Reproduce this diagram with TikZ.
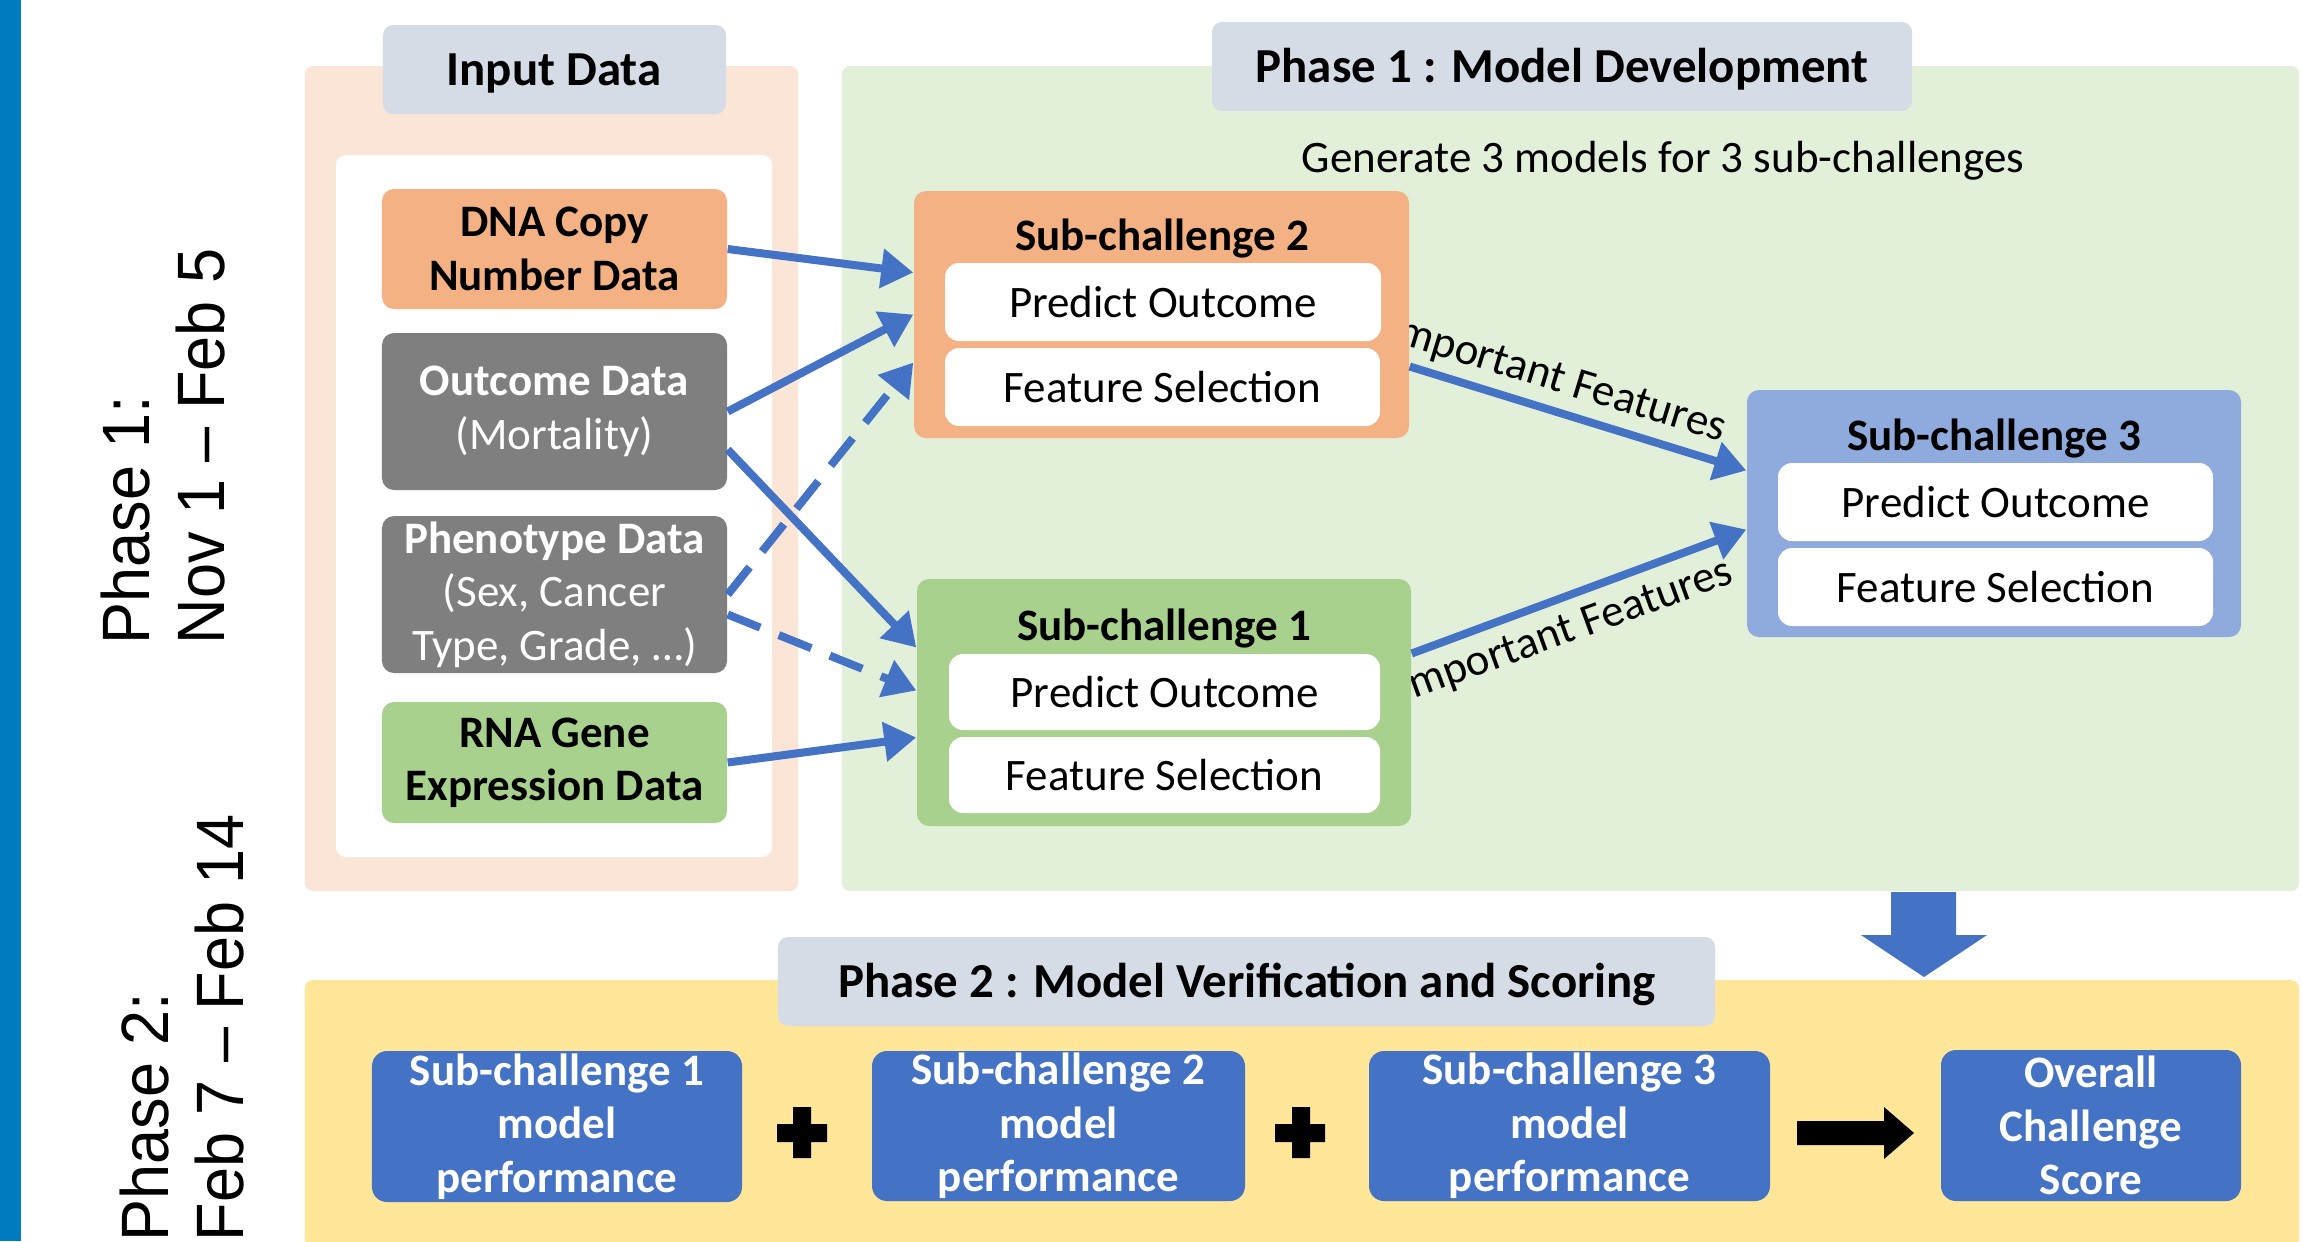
\documentclass[tikz,border=0pt]{standalone}
\usepackage{fontspec}
\usepackage{graphicx}
\setmainfont{Carlito}
\newfontfamily\phasefont{Liberation Sans}
\usetikzlibrary{arrows.meta,calc}

\definecolor{barblue}{RGB}{0,123,192}
\definecolor{peach}{RGB}{251,229,214}
\definecolor{palegreen}{RGB}{226,240,217}
\definecolor{paleyellow}{RGB}{255,230,153}
\definecolor{tagblue}{RGB}{214,220,229}
\definecolor{orng}{RGB}{244,177,131}
\definecolor{leaf}{RGB}{169,209,142}
\definecolor{slate}{RGB}{127,127,127}
\definecolor{sky}{RGB}{143,170,220}
\definecolor{royal}{RGB}{68,114,196}

\newcommand\bodyfont{\fontsize{12.8}{15.2}\selectfont}
\newcommand\headfont{\fontsize{13.9}{16.5}\selectfont\bfseries}
\newcommand\phasesize{\phasefont\fontsize{19.06}{21.34}\selectfont}
\newcommand\narrow[1]{\scalebox{0.94}[1]{#1}}
% \cornerbox[options]{name}{x1}{y1}{x2}{y2}{text}: a node spanning two corners (in px units)
\newcommand\cornerbox[7][]{%
  \pgfmathsetmacro\cbw{(#5-#3)*0.01}%
  \pgfmathsetmacro\cbh{(#6-#4)*0.01}%
  \node[inner sep=0pt, #1, minimum width=\cbw cm, minimum height=\cbh cm]
    (#2) at ({(#3+#5)/2},{(#4+#6)/2}) {#7};}

\begin{document}
\begin{tikzpicture}[x=0.01cm,y=-0.01cm,
  panel/.style={fill=#1, rounded corners=0.08cm},
  tag/.style={fill=tagblue, rounded corners=0.1cm},
  box/.style={fill=#1, rounded corners=0.12cm, align=center, font=\bodyfont},
  whitebox/.style={fill=white, rounded corners=0.14cm, font=\bodyfont},
  perfbox/.style={fill=royal, rounded corners=0.15cm, align=center,
                  text=white, font=\bodyfont\bfseries},
  boxtitle/.style={anchor=base, inner sep=0pt, font=\bodyfont\bfseries},
  headtext/.style={anchor=base, inner sep=0pt, font=\headfont},
  phasetext/.style={rotate=90, anchor=north west, inner sep=0pt, align=left, font=\phasesize},
  flow/.style={draw=royal, line width=0.08cm, -{Triangle[length=0.32cm,width=0.38cm]}},
  dflow/.style={flow, dash pattern=on 0.35cm off 0.2cm},
  featlabel/.style={anchor=base east, inner sep=0pt, font=\bodyfont}
]
\useasboundingbox (0,0) rectangle (2302,1241);
\fill[white] (0,0) rectangle (2302,1241);
\fill[barblue] (0,0) rectangle (21,1241);

% timeline captions
\node[phasetext] (phaseone) at (100,645) {\narrow{Phase 1:}\\\narrow{Nov 1 – Feb 5}};
\node[phasetext] (phasetwo) at (119,1242) {\narrow{Phase 2:}\\\narrow{Feb 7 – Feb 14}};

% background panels
\cornerbox[panel=peach]{inpanel}{305}{66}{798}{891}{}
\cornerbox[panel=palegreen]{devpanel}{842}{66}{2299}{891}{}
\cornerbox[panel=paleyellow]{scorepanel}{305}{980}{2299}{1275}{}

% panel headings
\cornerbox[tag]{intag}{383}{25}{726}{114}{}
\node[headtext] (intitle) at (554,85) {Input Data};
\cornerbox[tag]{devtag}{1212}{22}{1912}{111}{}
\node[headtext] (devtitle) at (1562,82) {Phase 1 : Model Development};
\cornerbox[tag]{scoretag}{778}{937}{1715}{1026}{}
\node[headtext] (scoretitle) at (1247,997) {Phase 2 : Model Verification and Scoring};

% input data
\cornerbox[fill=white, rounded corners=0.1cm]{inframe}{336}{155}{772}{857}{}
\cornerbox[box=orng, font=\bodyfont\bfseries]{dna}{382}{189}{727}{309}{DNA Copy\\Number Data}
\cornerbox[box=slate, text=white]{outcome}{382}{333}{727}{490}{\textbf{Outcome Data}\\(Mortality)}
\cornerbox[box=slate, text=white]{pheno}{382}{516}{727}{673}{\textbf{Phenotype Data}\\(Sex, Cancer\\Type, Grade, …)}
\cornerbox[box=leaf, font=\bodyfont\bfseries]{rna}{382}{702}{727}{823}{RNA Gene\\Expression Data}

\node[anchor=base, inner sep=0pt, font=\bodyfont] (gentext) at (1663,172) {Generate 3 models for 3 sub-challenges};

% feature labels sit beneath the sub-challenge boxes
\node[featlabel, rotate=-16.9] (featA) at (1722,442) {Important Features};
\node[featlabel, rotate=20] (featB) at (1736,582) {Important Features};

% sub-challenges
\cornerbox[box=orng]{sc2}{914}{191}{1409}{438}{}
\node[boxtitle] (sc2t) at (1162,250) {Sub-challenge 2};
\cornerbox[whitebox]{sc2p}{945}{263}{1381}{341}{Predict Outcome}
\cornerbox[whitebox]{sc2f}{945}{348}{1380}{426}{Feature Selection}

\cornerbox[box=leaf]{sc1}{917}{579}{1411}{826}{}
\node[boxtitle] (sc1t) at (1164,640) {Sub-challenge 1};
\cornerbox[whitebox]{sc1p}{949}{654}{1380}{730}{Predict Outcome}
\cornerbox[whitebox]{sc1f}{949}{737}{1380}{813}{Feature Selection}

\cornerbox[box=sky]{sc3}{1747}{390}{2241}{637}{}
\node[boxtitle] (sc3t) at (1994,450) {Sub-challenge 3};
\cornerbox[whitebox]{sc3p}{1778}{463}{2213}{541}{Predict Outcome}
\cornerbox[whitebox]{sc3f}{1778}{548}{2213}{626}{Feature Selection}

% data flow
\draw[flow] (dna.east) -- ($(sc2.west)+(0,-42)$);
\draw[flow] (outcome.east) -- (sc2.west);
\draw[flow] ($(outcome.east)+(0,38)$) -- ($(sc1.west)+(0,-55)$);
\draw[dflow] (pheno.east) -- ($(sc2.west)+(0,48)$);
\draw[dflow] ($(pheno.east)+(0,20)$) -- ($(sc1.west)+(0,-12)$);
\draw[flow] (rna.east) -- ($(sc1.west)+(0,35)$);
\draw[flow] ($(sc2.east)+(0,52)$) -- ($(sc3.west)+(0,-43)$);
\draw[flow] ($(sc1.east)+(0,-49)$) -- ($(sc3.west)+(0,16)$);

% phase transition arrow
\fill[royal] (1891,892) -- (1956,892) -- (1956,935) -- (1987,935) -- (1924,977)
  -- (1861,935) -- (1891,935) -- cycle;

% scoring
\cornerbox[perfbox]{perf1}{372}{1051}{742}{1202}{Sub-challenge 1\\model\\performance}
\cornerbox[perfbox]{perf2}{872}{1051}{1245}{1201}{Sub-challenge 2\\model\\performance}
\cornerbox[perfbox]{perf3}{1369}{1051}{1770}{1201}{Sub-challenge 3\\model\\performance}
\cornerbox[perfbox]{overall}{1941}{1050}{2241}{1201}{Overall\\Challenge\\Score}

\fill[black] (777,1124) rectangle (827,1142) (793,1107) rectangle (811,1158);
\fill[black] (1275,1124) rectangle (1325,1142) (1292,1107) rectangle (1310,1158);
\fill[black] (1797,1121) -- (1884,1121) -- (1884,1107) -- (1914,1133) -- (1884,1159)
  -- (1884,1145) -- (1797,1145) -- cycle;
\end{tikzpicture}
\end{document}
